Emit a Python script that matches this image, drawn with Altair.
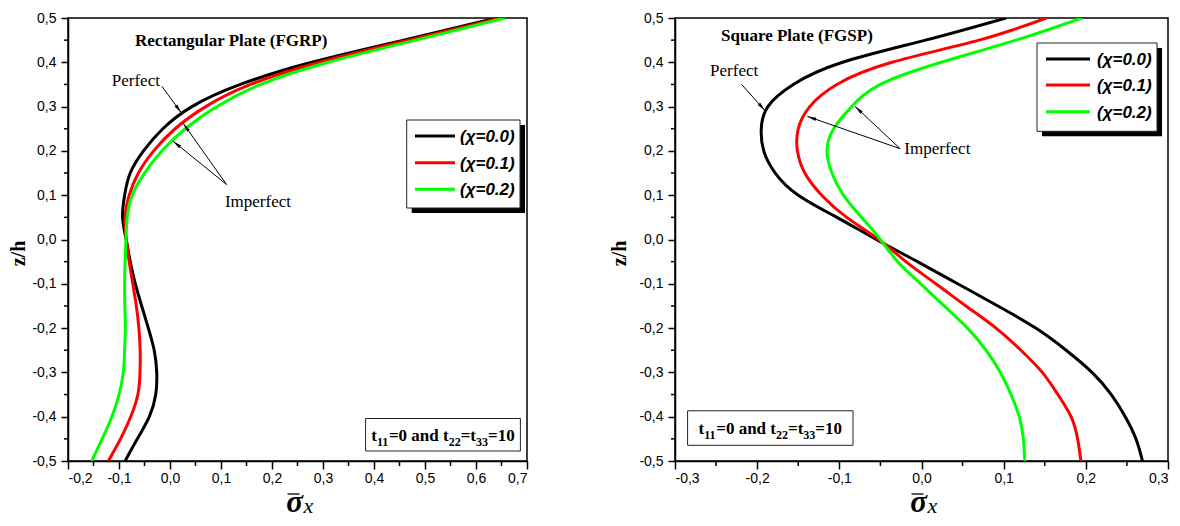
import math
import altair as alt
import pandas as pd

# ---------------- data ----------------
Z = [0.5, 0.45, 0.4, 0.35, 0.3, 0.25, 0.2, 0.15, 0.1, 0.05, 0.0,
     -0.05, -0.1, -0.15, -0.2, -0.25, -0.3, -0.35, -0.4, -0.45, -0.5]
SERIES = ["(χ=0.0)", "(χ=0.1)", "(χ=0.2)"]
COLORS = ["#000000", "#ff0000", "#00ff00"]

# Rectangular plate (FGRP)
RECT_0 = [0.640, 0.458, 0.278, 0.138, 0.043, -0.014, -0.052, -0.078, -0.089, -0.093, -0.086,
          -0.078, -0.068, -0.0555, -0.0425, -0.031, -0.026, -0.028, -0.0405, -0.064, -0.088]
RECT_1 = [0.648, 0.468, 0.293, 0.158, 0.070, 0.010, -0.032, -0.062, -0.080, -0.088, -0.0855,
          -0.080, -0.073, -0.066, -0.061, -0.0585, -0.0588, -0.063, -0.077, -0.097, -0.121]
RECT_2 = [0.657, 0.482, 0.310, 0.178, 0.092, 0.030, -0.016, -0.050, -0.074, -0.084, -0.0863,
          -0.088, -0.089, -0.0885, -0.0876, -0.089, -0.0915, -0.100, -0.114, -0.133, -0.1535]

# Square plate (FGSP)
SQ_0 = [0.103, 0.005, -0.096, -0.156, -0.187, -0.195, -0.192, -0.178, -0.150, -0.103, -0.055,
        -0.005, 0.044, 0.093, 0.139, 0.176, 0.2075, 0.231, 0.248, 0.261, 0.269]
SQ_1 = [0.152, 0.070, -0.036, -0.103, -0.136, -0.150, -0.151, -0.142, -0.1215, -0.091, -0.052,
        -0.019, 0.0175, 0.054, 0.0907, 0.121, 0.147, 0.166, 0.182, 0.190, 0.194]
SQ_2 = [0.195, 0.115, 0.024, -0.050, -0.085, -0.107, -0.115, -0.109, -0.095, -0.073, -0.050,
        -0.029, -0.001, 0.0276, 0.056, 0.0785, 0.096, 0.109, 0.119, 0.124, 0.1256]

RECT_XTICKS = [-0.2, -0.1, 0.0, 0.1, 0.2, 0.3, 0.4, 0.5, 0.6, 0.7]
RECT_XMINOR = [-0.15, -0.05, 0.05, 0.15, 0.25, 0.35, 0.45, 0.55, 0.65]
SQ_XTICKS = [-0.3, -0.2, -0.1, 0.0, 0.1, 0.2, 0.3]
SQ_XMINOR = [-0.25, -0.15, -0.05, 0.05, 0.15, 0.25]
YTICKS = [-0.5, -0.4, -0.3, -0.2, -0.1, 0.0, 0.1, 0.2, 0.3, 0.4, 0.5]
YMINOR = [-0.45, -0.35, -0.25, -0.15, -0.05, 0.05, 0.15, 0.25, 0.35, 0.45]

RECT_TITLE = "Rectangular Plate (FGRP)"
SQ_TITLE = "Square Plate (FGSP)"
Y_TITLE = "z/h"
SIGMA = "σ"
SIGMA_SUB = "x"
PERFECT = "Perfect"
IMPERFECT = "Imperfect"
# t11=0 and t22=t33=10, as (text, is_subscript)
TBOX_SEGMENTS = [("t", False), ("11", True), ("=0 and t", False), ("22", True),
                 ("=t", False), ("33", True), ("=10", False)]

# annotation anchors (data units)
RECT_TITLE_XY = (0.12, 0.447)
RECT_PERFECT_XY = (-0.067, 0.357)
RECT_IMPERFECT_XY = (0.1725, 0.084)
RECT_ARROWS = {"x0": [-0.016, 0.111, 0.111], "y0": [0.346, 0.124, 0.124],
               "x1": [0.022, 0.026, 0.006], "y1": [0.286, 0.262, 0.222]}
SQ_TITLE_XY = (-0.1516, 0.4586)
SQ_PERFECT_XY = (-0.228, 0.381)
SQ_IMPERFECT_XY = (0.0193, 0.204)
SQ_ARROWS = {"x0": [-0.219, -0.026, -0.026], "y0": [0.350, 0.205, 0.205],
             "x1": [-0.1905, -0.139, -0.081], "y1": [0.291, 0.278, 0.3007]}

# ---------------- style ----------------
SERIF = "Liberation Serif"
SANS = "Liberation Sans"
H = 443
W_RECT = 459
W_SQ = 493
LABEL_EXPR = ("(datum.value < -0.0001 ? '-' : '') + "
              "replace(format(abs(datum.value), '.1f'), '.', ',')")
BOLD_SERIF_W = {'t': 0.333, '=': 0.570, '0': 0.5, '1': 0.5, '2': 0.5, '3': 0.5,
                ' ': 0.25, 'a': 0.5, 'n': 0.556, 'd': 0.556}
ONE = pd.DataFrame({"a": [0]})


def text_px(txt, x, y, size, font=SERIF, weight="normal", style="normal",
            align="left", baseline="alphabetic", angle=None):
    kw = dict(font=font, fontSize=size, fontWeight=weight, fontStyle=style,
              align=align, baseline=baseline, color="black")
    if angle is not None:
        kw["angle"] = angle
    return alt.Chart(pd.DataFrame({"t": [txt]})).mark_text(**kw).encode(
        x=alt.value(x), y=alt.value(y), text="t:N")


def panel(vals, xdom, xticks, xminor, W, title, title_xy, perf_xy, imperf_xy,
          arrows, legend_box, legend_rows, legend_line, legend_text_dx,
          tbox, ytitle_dx):
    xscale = alt.Scale(domain=xdom, nice=False, zero=False)
    yscale = alt.Scale(domain=[-0.5, 0.5], nice=False, zero=False)
    rows = []
    for s, v in zip(SERIES, vals):
        for i, (z, sv) in enumerate(zip(Z, v)):
            rows.append({"series": s, "z": z, "sigma": sv, "order": i})
    df = pd.DataFrame(rows)

    layers = []
    lines = alt.Chart(df).mark_line(interpolate="natural", strokeWidth=3, clip=True).encode(
        x=alt.X("sigma:Q", scale=xscale,
                axis=alt.Axis(values=xticks, labelExpr=LABEL_EXPR, title=None, grid=False,
                              tickSize=8, labelPadding=2)),
        y=alt.Y("z:Q", scale=yscale,
                axis=alt.Axis(values=YTICKS, labelExpr=LABEL_EXPR, title=None, grid=False,
                              tickSize=7, labelPadding=5)),
        color=alt.Color("series:N", scale=alt.Scale(domain=SERIES, range=COLORS), legend=None),
        order="order:Q",
    )
    layers.append(lines)

    # minor ticks
    layers.append(alt.Chart(pd.DataFrame({"z": YMINOR})).mark_rule(color="black", strokeWidth=1.5).encode(
        y=alt.Y("z:Q", scale=yscale), x=alt.value(0), x2=alt.value(-4)))
    layers.append(alt.Chart(pd.DataFrame({"sigma": xminor})).mark_rule(color="black", strokeWidth=1.5).encode(
        x=alt.X("sigma:Q", scale=xscale), y=alt.value(H), y2=alt.value(H + 5)))

    # annotation texts in data units
    def text_data(txt, xy, size, weight="normal"):
        return alt.Chart(pd.DataFrame({"t": [txt], "sigma": [xy[0]], "z": [xy[1]]})).mark_text(
            font=SERIF, fontSize=size, fontWeight=weight, color="black",
            align="center", baseline="middle").encode(
            x=alt.X("sigma:Q", scale=xscale),
            y=alt.Y("z:Q", scale=yscale), text="t:N")

    layers.append(text_data(title, title_xy, 17, "bold"))
    layers.append(text_data(PERFECT, perf_xy, 17))
    layers.append(text_data(IMPERFECT, imperf_xy, 17))

    # arrows
    adf = pd.DataFrame({"sigma": arrows["x0"], "z": arrows["y0"],
                        "sigma2": arrows["x1"], "z2": arrows["y1"]})
    layers.append(alt.Chart(adf).mark_rule(color="black", strokeWidth=1).encode(
        x=alt.X("sigma:Q", scale=xscale), y=alt.Y("z:Q", scale=yscale),
        x2="sigma2:Q", y2="z2:Q"))
    sx = W / (xdom[1] - xdom[0])
    sy = H / 1.0
    hx, hy, ang = [], [], []
    for x0, y0, x1, y1 in zip(arrows["x0"], arrows["y0"], arrows["x1"], arrows["y1"]):
        dx = (x1 - x0) * sx
        dy = -(y1 - y0) * sy
        L = math.hypot(dx, dy)
        ux, uy = dx / L, dy / L
        ang.append(math.degrees(math.atan2(ux, -uy)) % 360)
        hx.append(x1 - ux * 4.5 / sx)
        hy.append(y1 + uy * 4.5 / sy)
    hdf = pd.DataFrame({"sigma": hx, "z": hy, "ang": ang})
    layers.append(alt.Chart(hdf).mark_point(shape="M0,-1L-0.38,1L0.38,1Z", filled=True,
                                            color="black", size=81, opacity=1).encode(
        x=alt.X("sigma:Q", scale=xscale), y=alt.Y("z:Q", scale=yscale),
        angle=alt.Angle("ang:Q", scale=None)))

    # legend (drawn by hand, with shadow)
    bx0, by0, bx1, by1 = legend_box
    layers.append(alt.Chart(ONE).mark_rect(color="black").encode(
        x=alt.value(bx0 + 5), x2=alt.value(bx1 + 5), y=alt.value(by0 + 5), y2=alt.value(by1 + 5)))
    layers.append(alt.Chart(ONE).mark_rect(fill="white", stroke="#222222", strokeWidth=1).encode(
        x=alt.value(bx0), x2=alt.value(bx1), y=alt.value(by0), y2=alt.value(by1)))
    for s, c, ry in zip(SERIES, COLORS, legend_rows):
        layers.append(alt.Chart(ONE).mark_rule(color=c, strokeWidth=3).encode(
            x=alt.value(bx0 + legend_line[0]), x2=alt.value(bx0 + legend_line[1]), y=alt.value(by0 + ry)))
        layers.append(text_px(s, bx0 + legend_text_dx, by0 + ry + 1, 17, font=SANS,
                              weight="bold", style="italic", baseline="middle"))

    # t11=0 and t22=t33=10 box
    tx0, ty0, tx1, ty1 = tbox
    layers.append(alt.Chart(ONE).mark_rect(fill="white", stroke="#222222", strokeWidth=1).encode(
        x=alt.value(tx0), x2=alt.value(tx1), y=alt.value(ty0), y2=alt.value(ty1)))
    F, S = 17, 12
    total = sum(sum(BOLD_SERIF_W[ch] for ch in seg) * (S if sub else F) for seg, sub in TBOX_SEGMENTS)
    cx = (tx0 + tx1) / 2 - total / 2
    base = (ty0 + ty1) / 2 + 6
    for seg, sub in TBOX_SEGMENTS:
        size = S if sub else F
        layers.append(text_px(seg, cx, base + (5 if sub else 0), size, weight="bold"))
        cx += sum(BOLD_SERIF_W[ch] for ch in seg) * size

    # axis titles
    layers.append(text_px(Y_TITLE, ytitle_dx, H / 2 + 14, 20, weight="bold",
                          align="center", baseline="middle", angle=270))
    scx = W / 2 - 3
    layers.append(alt.Chart(ONE).mark_rule(color="black", strokeWidth=1.3).encode(
        x=alt.value(scx - 7), x2=alt.value(scx + 5), y=alt.value(H + 33)))
    layers.append(text_px(SIGMA, scx, H + 51, 31, weight="bold", style="italic", align="center"))
    layers.append(text_px(SIGMA_SUB, scx + 9, H + 52, 22, style="italic"))

    return alt.layer(*layers).properties(width=W, height=H)


left = panel([RECT_0, RECT_1, RECT_2], [-0.2, 0.7], RECT_XTICKS, RECT_XMINOR, W_RECT,
             RECT_TITLE, RECT_TITLE_XY, RECT_PERFECT_XY, RECT_IMPERFECT_XY, RECT_ARROWS,
             legend_box=(W_RECT - 120.3, 102, W_RECT - 7, 190),
             legend_rows=[16, 42.7, 69.3], legend_line=(8.3, 48.3), legend_text_dx=53.3,
             tbox=(297.6, H - 42.5, 452.4, H - 10), ytitle_dx=-49)

right = panel([SQ_0, SQ_1, SQ_2], [-0.3, 0.3], SQ_XTICKS, SQ_XMINOR, W_SQ,
              SQ_TITLE, SQ_TITLE_XY, SQ_PERFECT_XY, SQ_IMPERFECT_XY, SQ_ARROWS,
              legend_box=(W_SQ - 131, 25, W_SQ - 11, 113.3),
              legend_rows=[15.9, 42, 68.8], legend_line=(9, 53), legend_text_dx=60,
              tbox=(12.6, H - 50.2, 178, H - 15.7), ytitle_dx=-55)

chart = alt.hconcat(left, right, spacing=80).properties(
    padding={"left": 0, "top": 2, "right": 0, "bottom": 0}
).configure_view(
    stroke="black", strokeWidth=1.5
).configure_axis(
    domainColor="black", domainWidth=1.5, tickColor="black", tickWidth=1.5,
    labelFont=SANS, labelFontSize=14, labelColor="black"
)

chart.save("out.html", embed_options={"renderer": "svg", "actions": False})
